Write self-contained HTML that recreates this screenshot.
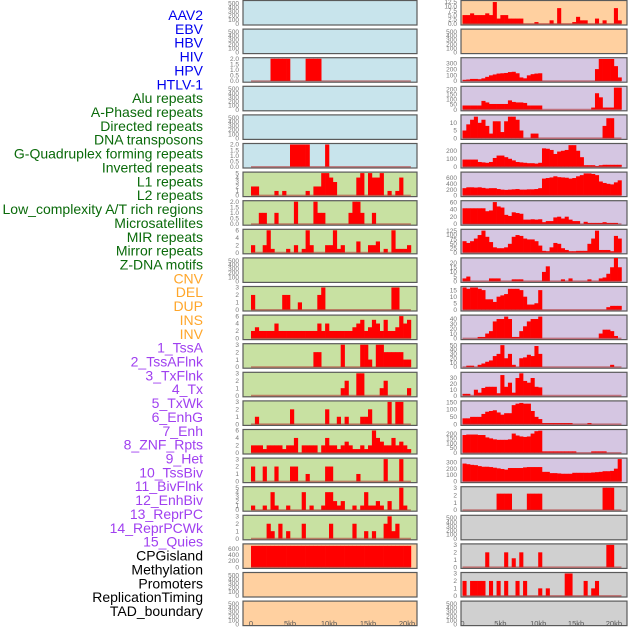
<!DOCTYPE html>
<html><head><meta charset="utf-8"><style>
html,body{margin:0;padding:0;background:#fff;}
svg{display:block;font-family:"Liberation Sans",sans-serif;}
</style></head><body>
<svg id="chart" width="630" height="630" viewBox="0 0 630 630" xmlns="http://www.w3.org/2000/svg"></svg>
<script>
// ---- labels ----
const trackLabels = ["AAV2","EBV","HBV","HIV","HPV","HTLV-1","Alu repeats","A-Phased repeats","Directed repeats","DNA transposons","G-Quadruplex forming repeats","Inverted repeats","L1 repeats","L2 repeats","Low_complexity A/T rich regions","Microsatellites","MIR repeats","Mirror repeats","Z-DNA motifs","CNV","DEL","DUP","INS","INV","1_TssA","2_TssAFlnk","3_TxFlnk","4_Tx","5_TxWk","6_EnhG","7_Enh","8_ZNF_Rpts","9_Het","10_TssBiv","11_BivFlnk","12_EnhBiv","13_ReprPC","14_ReprPCWk","15_Quies","CPGisland","Methylation","Promoters","ReplicationTiming","TAD_boundary"];
const xTickLabels = ["0","5kb","10kb","15kb","20kb"];
const xTickValues = [0,5,10,15,20];

// ---- left column data (41 bins of 0.5kb) ----
const leftR2 = [0,0,0,0,0,2,2,2,2,2, 0,0,0,0,2,2,2,2,0,0, 0,0,0,0,0,0,0,0,0,0, 0,0,0,0,0,0,0,0,0,0, 0];
const leftR5 = [0,0,0,0,0,0,0,0,0,0, 2,2,2,2,2,0,0,0,0,2, 0,0,0,0,0,0,0,0,0,0, 0,0,0,0,0,0,0,0,0,0, 0];
const leftR6 = [2,2,0,0,0,0,1,0,1,0, 0,0,0,0,1,0,2,2,5,5, 4,3,0,0,0,0,0,4,5,0, 5,4,4,5,0,1,0,1,4,0, 0];
const leftR7 = [0,0,1,1,0,0,1,0,0,0, 0,2,0,0,0,0,2,1,1,0, 0,0,0,0,0,1,2,2,1,0, 0,1,0,0,0,0,0,0,0,0, 0];
const leftR8 = [2,0,0,2,6,1,0,0,0,1, 0,2,0,1,6,2,0,0,0,2, 2,6,1,2,0,0,0,3,0,0, 2,2,3,0,1,0,6,1,1,1, 2];
const leftR10 = [2,0,0,0,0,0,0,0,2,2, 0,0,1,0,0,0,0,2,3,0, 0,0,0,0,0,0,0,0,0,0, 0,0,0,0,0,0,3,3,0,0, 0];
const leftR11 = [2,3,2,2,2,2,4,2,2,2, 2,2,2,2,2,2,2,4,2,4, 2,2,2,2,2,2,3,4,5,2, 3,5,4,2,5,2,2,3,6,4, 5];
const leftR12 = [0,0,0,0,0,0,0,0,0,0, 0,0,0,0,0,0,2,2,0,0, 0,0,0,3,0,0,0,0,3,3, 1,0,3,3,2,2,2,2,2,1, 1];
const leftR13 = [0,0,0,0,0,0,0,0,0,0, 0,0,0,0,0,0,0,0,0,0, 0,0,0,1,2,0,0,3,3,0, 0,0,0,1,2,0,0,0,0,0, 1];
const leftR14 = [0,1,0,0,0,0,0,0,0,0, 2,0,0,0,0,0,0,0,0,2, 0,0,1,0,1,0,0,0,1,1, 2,0,0,0,0,3,0,3,3,0, 0];
const leftR15 = [2,2,2,1,2,2,2,2,1,2, 2,4,0,2,2,2,2,0,2,4, 2,2,1,2,3,2,1,1,2,1, 2,6,4,3,2,2,4,2,3,2, 1];
const leftR16 = [2,0,0,2,0,0,2,0,0,0, 2,2,0,0,1,0,0,0,0,2, 2,0,0,0,0,0,0,1,0,0, 0,0,0,0,3,0,0,0,3,0, 0];
const leftR17 = [1,0,0,1,0,4,1,0,0,1, 0,0,0,4,0,1,0,0,1,4, 4,2,1,2,0,0,1,0,1,4, 1,1,2,1,0,2,0,0,5,1, 0];
const leftR18 = [0,0,0,0,2,1,0,2,0,1, 0,0,0,2,0,0,0,0,0,0, 2,0,0,0,0,0,2,0,0,1, 0,1,0,0,2,3,1,2,0,0, 0];
const leftR19 = [690,690,690,690,690,690,690,690,690,690, 690,690,690,690,690,690,690,690,690,690, 690,690,690,690,690,690,690,690,690,690, 690,690,690,690,690,690,690,690,690,690, 690];

// ---- right column data (42 bins of 0.5kb) ----
const rightR0 = [5,5,6,5,5,5,6,5,12.5,3, 5,5,3,3,3,3,0,0,0,1, 0,0,0,2,0,9,0,0,0,1, 4,2,2,0,0,3,0,2,0,0, 9,2];
const rightR2 = [20,25,35,35,30,45,70,95,110,125, 130,135,150,155,130,60,45,95,115,125, 130,0,0,0,0,0,0,0,0,0, 0,0,0,0,0,200,370,370,370,370, 250,60];
const rightR3 = [40,40,40,40,40,85,70,55,55,55, 55,55,90,75,70,70,65,40,40,40, 40,0,0,0,0,0,0,0,0,0, 0,0,0,0,20,160,120,20,20,20, 215,215];
const rightR4 = [5,9,12,14,10,12,8,3,11,11, 4,11,14,14,12,5,0,0,3,3, 0,0,0,0,0,0,0,0,0,0, 0,0,0,0,0,0,0,8,13,13, 0,0];
const rightR5 = [90,90,90,90,60,55,50,60,110,140, 140,120,100,80,60,55,50,45,45,40, 50,230,225,210,160,190,200,210,270,270, 200,120,20,20,20,10,20,25,25,25, 25,25];
const rightR6 = [250,280,280,270,280,260,240,250,250,220, 200,190,200,210,220,200,200,210,210,220, 250,580,600,620,660,630,620,610,580,600, 660,700,760,760,740,700,480,430,400,380, 450,520];
const rightR7 = [43,43,43,43,43,43,35,37,60,48, 45,25,22,32,30,28,12,12,13,12, 13,5,8,8,18,20,15,20,12,8, 8,0,6,3,3,3,3,5,3,3, 3,0];
const rightR8 = [65,55,65,80,100,125,90,60,30,25, 25,30,50,90,100,95,80,75,75,65, 40,10,8,30,55,50,25,15,8,8, 10,10,10,50,80,125,15,15,15,8, 95,80];
const rightR9 = [3,5,0,0,0,0,0,3,3,3, 0,0,0,2,2,2,0,0,0,0, 0,10,16,0,0,0,2,0,3,0, 0,0,0,2,0,0,3,4,8,15, 25,15];
const rightR10 = [17,16,17,17,16,15,8,8,6,10, 11,12,16,16,16,15,10,4,4,5, 15,0,0,0,0,0,0,0,0,0, 0,0,0,0,0,0,0,0,2,3, 3,3];
const rightR11 = [0,0,0,0,3,3,10,15,35,40, 40,45,40,3,3,15,25,35,40,40, 45,0,0,0,0,0,0,0,0,0, 0,0,0,0,0,0,10,18,18,15, 5,0];
const rightR12 = [0,3,3,0,5,8,12,15,25,30, 50,20,30,5,0,20,22,28,25,48, 30,0,0,0,0,0,0,0,0,0, 0,0,0,0,0,0,0,0,0,5, 0,0];
const rightR13 = [3,3,0,10,5,13,15,15,15,4, 35,15,22,5,30,38,25,22,30,15, 14,0,0,0,0,0,0,0,0,0, 0,0,0,0,0,0,0,0,0,0, 0,0];
const rightR14 = [40,40,50,50,50,70,85,90,95,80, 65,75,75,130,140,145,140,140,90,50, 35,8,8,8,8,8,8,8,8,0, 0,0,0,8,0,0,0,0,0,0, 0,0];
const rightR15 = [185,190,190,190,185,185,160,150,140,135, 135,135,140,200,180,170,165,170,200,225, 230,15,15,15,15,15,15,15,15,15, 0,0,0,0,15,15,15,15,0,0, 0,0];
const rightR16 = [280,270,260,255,240,230,230,225,215,205, 195,185,210,210,210,210,220,225,225,225, 225,150,150,130,130,125,120,120,120,135, 135,135,135,135,140,145,150,160,160,165, 200,350];
const rightR17 = [0,0,0,0,0,0,0,0,0,2.2, 2.2,2.2,2.2,0,0,0,0,2.2,2.2,2.2, 2.2,0,0,0,0,0,0,0,0,0, 0,0,0,0,0,0,0,3,3,3, 0,0];
const rightR19 = [0,0,0,0,0,0,2,0,0,0, 0,2,0,1.2,0,2,0,0,0,0, 2,0,0,0,0,0,0,0,0,0, 0,0,0,0,0,0,0,0,3,3, 0,0];
const rightR20 = [2,0,2,2,2,2,0,2,0,2, 0,2,0,0,2,0,2,0,0,0, 1,0,1,0,0,0,0,3,3,0, 0,0,2,0,1,2,0,0,0,0, 0,0];

const EMPTY = {max:540, ticks:[0,100,200,300,400,500]};
const T2 = {max:2, ticks:[0,0.5,1,1.5,2], fmt:1};
const T3 = {max:3, ticks:[0,1,2,3]};
const T5 = {max:5, ticks:[0,1,2,3,4,5]};
const T6 = {max:6, ticks:[0,2,4,6]};

const BLUE="#c8e4ec", GREEN="#c8e1a2", PEACH="#ffd0a0", LAV="#d5c6e2", GREY="#d0d0d0";
const leftPanels = [
 [BLUE,null,EMPTY],[BLUE,null,EMPTY],[BLUE,leftR2,T2],[BLUE,null,EMPTY],[BLUE,null,EMPTY],[BLUE,leftR5,T2],
 [GREEN,leftR6,T5],[GREEN,leftR7,T2],[GREEN,leftR8,T6],[GREEN,null,EMPTY],[GREEN,leftR10,T3],[GREEN,leftR11,T6],
 [GREEN,leftR12,T3],[GREEN,leftR13,T3],[GREEN,leftR14,T3],[GREEN,leftR15,T6],[GREEN,leftR16,T3],[GREEN,leftR17,T5],
 [GREEN,leftR18,T3],[PEACH,leftR19,{max:720,ticks:[0,200,400,600]}],[PEACH,null,EMPTY],[PEACH,null,EMPTY]];
const rightPanels = [
 [PEACH,rightR0,{max:12.8,ticks:[0,2.5,5,7.5,10,12.5],fmt:1}],[PEACH,null,EMPTY],
 [LAV,rightR2,{max:375,ticks:[0,100,200,300]}],[LAV,rightR3,{max:218,ticks:[0,50,100,150,200]}],
 [LAV,rightR4,{max:14.5,ticks:[0,5,10]}],[LAV,rightR5,{max:278,ticks:[0,100,200]}],
 [LAV,rightR6,{max:770,ticks:[0,200,400,600]}],[LAV,rightR7,{max:61,ticks:[0,20,40,60]}],
 [LAV,rightR8,{max:127,ticks:[0,25,50,75,100,125]}],[LAV,rightR9,{max:24,ticks:[0,5,10,15,20]}],
 [LAV,rightR10,{max:17,ticks:[0,5,10,15]}],[LAV,rightR11,{max:46,ticks:[0,10,20,30,40]}],
 [LAV,rightR12,{max:51,ticks:[0,10,20,30,40,50]}],[LAV,rightR13,{max:38,ticks:[0,10,20,30]}],
 [LAV,rightR14,{max:152,ticks:[0,50,100,150]}],[LAV,rightR15,{max:232,ticks:[0,50,100,150,200]}],
 [LAV,rightR16,{max:350,ticks:[0,100,200,300]}],[GREY,rightR17,T3],[GREY,null,EMPTY],
 [GREY,rightR19,T3],[GREY,rightR20,T3],[GREY,null,EMPTY]];

const NS="http://www.w3.org/2000/svg";
const svg=document.getElementById('chart');
function mk(tag,attrs,parent){const e=document.createElementNS(NS,tag);for(const k in attrs)e.setAttribute(k,attrs[k]);(parent||svg).appendChild(e);return e;}

// labels
const labelColor=i=> i<6?"#0000ee": i<19?"#0a6a0a": i<24?"#ffa62a": i<39?"#a040f0":"#000";
trackLabels.forEach((t,i)=>{
  const el=mk('text',{x:203,y:20+i*13.86,'text-anchor':'end','font-size':'14',fill:labelColor(i)});
  
  
  el.textContent=t;
});

const PITCH=28.6, PH=24.5;
function drawColumn(panels, px, pw, x0, pxPerKb, colName){
  const xs=kb=>x0+kb*pxPerKb;
  const g=mk('g',{});
  
  
  panels.forEach((p,k)=>{
    const [fill,data,ax]=p;
    const top=k*PITCH+0.5;
    const base=top+23.3, ytop=top+1;
    const ys=v=>base-(v/ax.max)*(base-ytop);
    const pg=mk('g',{},g);
    
    
    mk('rect',{x:px,y:top,width:pw,height:PH,fill:fill,stroke:'#5a5a5a','stroke-width':1.2},pg);
    ax.ticks.forEach(t=>{
      const tl=mk('text',{x:px-4,y:ys(t)+2.2,'text-anchor':'end','font-size':'6.5',fill:'#777'},pg);
      
      
      tl.textContent= ax.fmt? t.toFixed(1): String(t);
    });
    if(data){
      const bw=0.5*pxPerKb;
      data.forEach((v,i)=>{
        if(v<=0) return;
        const b=mk('rect',{x:xs(i*0.5),y:ys(v),width:bw+0.3,height:base-ys(v),fill:'#ff0000'},pg);
        
        
      });
      const ln=mk('line',{x1:xs(0),x2:xs(data.length*0.5),y1:base,y2:base,stroke:'#b03030','stroke-opacity':0.55,'stroke-width':1.6},pg);
      
      
    }
  });
  xTickValues.forEach((v,i)=>{
    const t=mk('text',{x:xs(v),y:626,'text-anchor':'middle','font-size':'7.5',fill:'#555'},g);
    
    
    t.textContent=xTickLabels[i];
  });
}
drawColumn(leftPanels,243,174,251,7.8,'left-panel-column');
drawColumn(rightPanels,461,166,462.5,7.57,'right-panel-column');
</script>
</body></html>
